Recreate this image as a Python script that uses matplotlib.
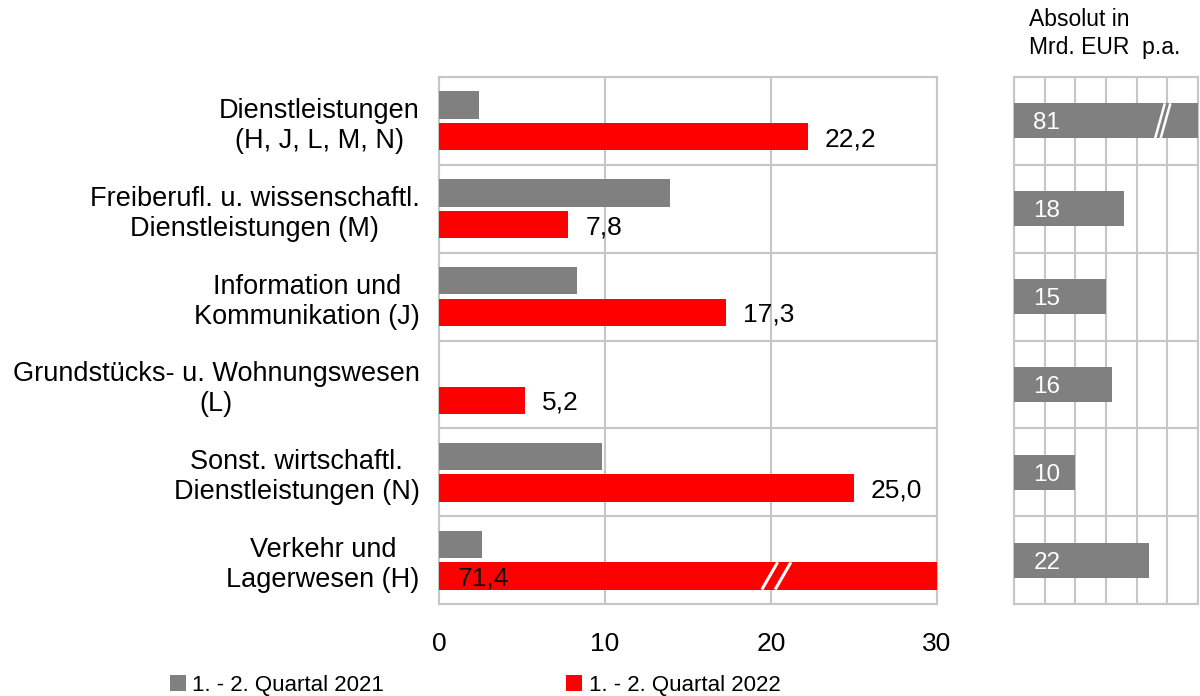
import matplotlib
matplotlib.use("Agg")
import matplotlib.pyplot as plt
import numpy as np

plt.rcParams['font.family'] = ['Liberation Sans', 'DejaVu Sans']

categories = ["Dienstleistungen\n(H, J, L, M, N)",
              "Freiberufl. u. wissenschaftl.\nDienstleistungen (M)",
              "Information und\nKommunikation (J)",
              "Grundstücks- u. Wohnungswesen\n(L)",
              "Sonst. wirtschaftl.\nDienstleistungen (N)",
              "Verkehr und\nLagerwesen (H)"]
q2021 = [2.4, 13.9, 8.3, 0.0, 9.8, 2.6]
q2022 = [22.2, 7.8, 17.3, 5.2, 25.0, 71.4]
absolut = [81, 18, 15, 16, 10, 22]
legend_labels = ["1. - 2. Quartal 2021", "1. - 2. Quartal 2022"]

grey = "#808080"
red = "#ff0000"
gridc = "#c6c6c6"
xmax_main = 30
xmax_abs = 30

fig = plt.figure(figsize=(12, 6.96), dpi=100)
ax = fig.add_axes([439/1200, 1-604/696, 498/1200, 527/696])
ax2 = fig.add_axes([1014/1200, 1-604/696, 184/1200, 527/696])

y = np.arange(len(categories))
h = 0.31
off = 0.18

b1 = ax.barh(y - off, q2021, height=h, color=grey, zorder=3, label=legend_labels[0])
b2 = ax.barh(y + off, q2022, height=h, color=red, zorder=3, label=legend_labels[1])

for yi, v in zip(y, q2022):
    txt = f"{v:.1f}".replace(".", ",")
    if v > xmax_main:
        ax.text(1.1, yi + off, txt, ha="left", va="center_baseline", fontsize=19,
                color="#111111", zorder=5)
        # break mark on the clipped bar
        for x0 in (19.45, 20.25):
            ax.plot([x0, x0 + 0.95], [yi + off + h/2, yi + off - h/2], color="white", lw=2.2,
                    zorder=4, solid_capstyle="butt")
    else:
        ax.annotate(txt, (v, yi + off), xytext=(12, 0), textcoords="offset points",
                    ha="left", va="center_baseline", fontsize=19, color="black")

ax.set_xlim(0, xmax_main)
ax.set_ylim(len(categories) - 0.5, -0.5)
ax.set_xticks([0, 10, 20, 30])
ax.set_yticks(y)
ax.set_yticklabels(categories, fontsize=19.5)
for t in ax.get_yticklabels():
    t.set_multialignment("center")
ax.set_yticks(np.arange(-0.5, len(categories), 1), minor=True)
ax.tick_params(axis="x", length=0, pad=20, labelsize=19)
ax.tick_params(axis="y", which="both", length=0, pad=14)
ax.grid(axis="x", which="major", color=gridc, lw=1.5, zorder=0)
ax.grid(axis="y", which="minor", color=gridc, lw=1.5, zorder=0)
for s in ax.spines.values():
    s.set_color(gridc)
    s.set_linewidth(1.5)

# right panel: absolute values
ax2.barh(y, absolut, height=0.4, color=grey, zorder=3)
for yi, v in zip(y, absolut):
    ax2.annotate(str(v), (0, yi), xytext=(14, 0), textcoords="offset points",
                 ha="left", va="center_baseline", fontsize=17.5, color="white", zorder=5)
    if v > xmax_abs:
        for x0 in (23.0, 23.9):
            ax2.plot([x0, x0 + 1.6], [yi + 0.2, yi - 0.2], color="white", lw=1.8,
                     zorder=4, solid_capstyle="butt")
ax2.set_xlim(0, xmax_abs)
ax2.set_ylim(len(categories) - 0.5, -0.5)
ax2.set_xticks(np.arange(0, 31, 5))
ax2.set_yticks(np.arange(-0.5, len(categories), 1))
ax2.tick_params(length=0, labelbottom=False, labelleft=False)
ax2.grid(color=gridc, lw=1.5, zorder=0)
for s in ax2.spines.values():
    s.set_color(gridc)
    s.set_linewidth(1.5)

fig.text(1029/1200, 1-8/696, "Absolut in\nMrd. EUR  p.a.", ha="left", va="top",
         fontsize=16.5, linespacing=1.3)

fig.legend(handles=[b1, b2], labels=legend_labels, loc="center left",
           bbox_to_anchor=(170/1200, 1-685/696), ncol=2, frameon=False, fontsize=16,
           handlelength=0.7, handleheight=0.7, handletextpad=0.3, columnspacing=8.2,
           borderpad=0, borderaxespad=0)

fig.savefig("out.png", dpi=100)
